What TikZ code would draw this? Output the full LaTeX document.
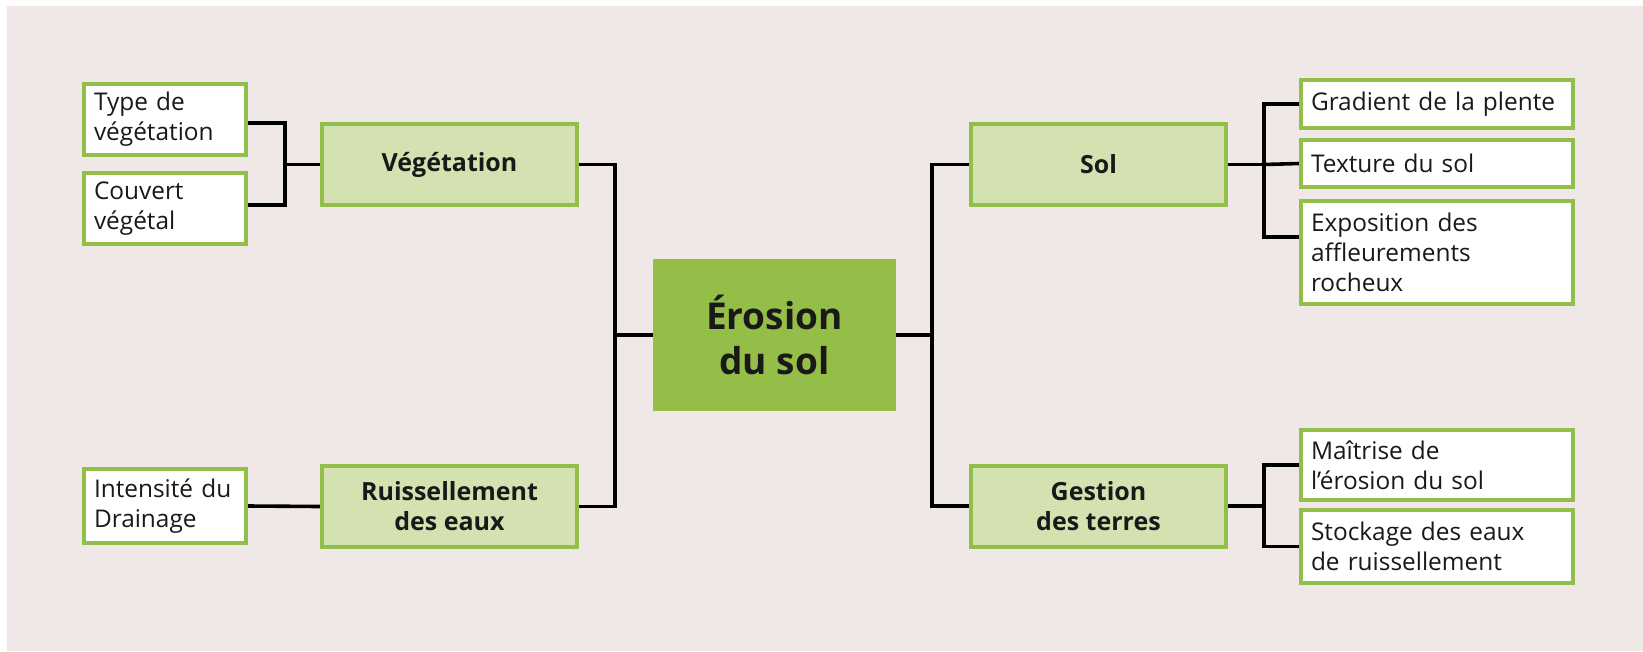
\documentclass[tikz,border=0pt]{standalone}
\usepackage{fontspec}
\setmainfont{Open Sans}
\usetikzlibrary{calc,positioning,backgrounds}
\definecolor{bgpink}{HTML}{F0E8E7}
\definecolor{boxgreen}{HTML}{92BF4A}
\definecolor{palegreen}{HTML}{D4E1B1}
\definecolor{rootgreen}{HTML}{95BE48}

\begin{document}
\begin{tikzpicture}[x=1pt,y=-1pt]

\tikzset{leafnode/.style={draw=boxgreen,line width=4pt,fill=white,align=left,inner xsep=10pt,inner ysep=0pt,text=black!90,font=\fontsize{24.4}{30}\selectfont},
mainnode/.style={draw=boxgreen,line width=4pt,fill=palegreen,align=center,minimum width=255pt,minimum height=81pt,inner sep=0pt,text=black!90,font=\fontsize{25}{30}\selectfont\bfseries},
rootnode/.style={fill=rootgreen,align=center,minimum width=243pt,minimum height=152pt,inner sep=0pt,text=black!90,font=\fontsize{37}{45}\selectfont\bfseries},
link/.style={line width=3.6pt,black}}

\useasboundingbox (0,0) rectangle (1643,651);

% Root node
\node[rootnode] (eros) at (774.5,335) {Érosion\\du sol};

% Main nodes
\node[mainnode] (veg) at (449.5,164.5) {Végétation};
\node[mainnode] (ruis) at (449.5,506.5) {Ruissellement\\des eaux};
\node[mainnode] (sol) at (1098.5,164.5) {Sol};
\node[mainnode] (gest) at (1098.5,506) {Gestion\\des terres};

% Left leaf nodes
\node[leafnode,text width=142pt,minimum height=71pt] (type) at (165,119.5) {Type de\\végétation};
\node[leafnode,text width=142pt,minimum height=71pt] (couv) at (165,208.5) {Couvert\\végétal};
\node[leafnode,text width=142pt,minimum height=74pt] (inte) at (165,506) {Intensité du\\Drainage};

% Right leaf nodes
\node[leafnode,text width=252pt,minimum height=48pt] (grad) at (1437,104) {Gradient de la plente};
\node[leafnode,text width=252pt,minimum height=47pt] (text) at (1437,163.5) {Texture du sol};
\node[leafnode,text width=252pt,minimum height=103pt] (expo) at (1437,252.5) {Exposition des\\affleurements\\rocheux};
\node[leafnode,text width=252pt,minimum height=70pt] (mait) at (1437,465) {Maîtrise de\\l’érosion du sol};
\node[leafnode,text width=252pt,minimum height=73pt] (stoc) at (1437,546.5) {Stockage des eaux\\de ruissellement};

% Junctions
\coordinate (jL) at (615,335);
\coordinate (jR) at (932,335);
\coordinate (jV) at (285,164.5);
\coordinate (jS) at (1264,164.5);
\coordinate (jG) at (1264,506);

\begin{scope}[on background layer]
\fill[bgpink] (7,6) rectangle (1643,651);
% Edges
\draw[link] (eros.west) -- (jL); \draw[link] (veg.east) -| (jL) |- (ruis.east); % left side
\draw[link] (eros.east) -- (jR); \draw[link] (sol.west) -| (jR) |- (gest.west); % right side
\draw[link] (veg.west) -- (jV); \draw[link] ([yshift=-3.5pt]type.east) -| (jV) |- ([yshift=3.5pt]couv.east); % vegetation
\draw[link] (inte.east) -- (ruis.west); % ruissellement
\draw[link] (sol.east) -- (jS); \draw[link] (grad.west) -| (jS) |- ([yshift=15.5pt]expo.west); \draw[link] (jS) -- (text.west); % sol
\draw[link] (gest.east) -- (jG); \draw[link] (mait.west) -| (jG) |- (stoc.west); % gestion
\end{scope}

\end{tikzpicture}
\end{document}
